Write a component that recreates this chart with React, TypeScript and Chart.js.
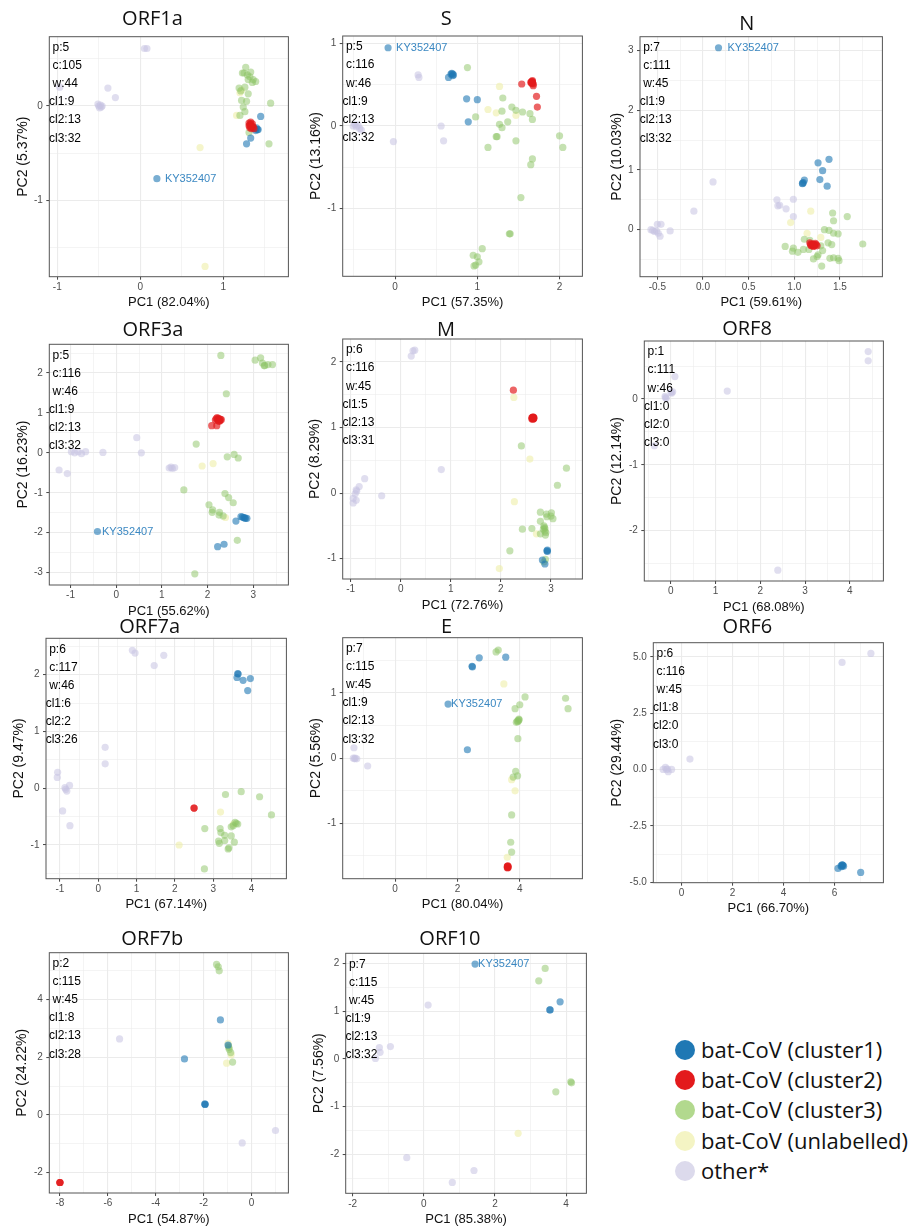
import React, { useEffect, useRef } from "react";
import { Chart, registerables } from "chart.js";
Chart.register(...registerables);

type Pt = [number, number];

const KY_LABEL = "KY352407";

/* ---------------- ORF1a ---------------- */
const ORF1a_cluster1: Pt[] = [[1.45,-0.11],[1.41,-0.25],[1.38,-0.24],[1.33,-0.34],[1.28,-0.40],[1.36,-0.23],[1.42,-0.25],[1.40,-0.23],[1.39,-0.26]];
const ORF1a_ky: Pt[] = [[0.20,-0.77]];
const ORF1a_cluster2: Pt[] = [[1.31,-0.18],[1.32,-0.20],[1.33,-0.19],[1.34,-0.21],[1.35,-0.22],[1.32,-0.23],[1.36,-0.22],[1.33,-0.17],[1.34,-0.24],[1.31,-0.21],[1.37,-0.24],[1.35,-0.19],[1.33,-0.22]];
const ORF1a_cluster3: Pt[] = [[1.27,0.41],[1.23,0.35],[1.33,0.36],[1.36,0.28],[1.30,0.28],[1.39,0.26],[1.26,0.20],[1.19,0.19],[1.21,0.16],[1.30,0.13],[1.28,0.05],[1.24,-0.01],[1.26,-0.06],[1.57,0.03],[1.20,-0.10],[1.55,-0.40],[1.31,-0.28],[1.32,0.31],[1.22,0.06],[1.29,0.33],[1.35,0.25],[1.25,0.35]];
const ORF1a_unlabelled: Pt[] = [[0.72,-0.44],[0.78,-1.70],[1.16,-0.10],[1.20,0.14],[1.22,0.17]];
const ORF1a_other: Pt[] = [[0.05,0.61],[0.08,0.61],[-0.97,0.20],[-0.39,0.19],[-0.30,0.09],[-0.50,0.00],[-0.48,0.01],[-0.47,-0.01],[-0.49,-0.02],[-0.51,0.02],[-0.46,0.00]];
const ORF1a_stats = ["p:5","c:105","w:44","cl1:9","cl2:13","cl3:32"];
const ORF1a_xTicks = [-1,0,1];
const ORF1a_xLabels = ["-1","0","1"];
const ORF1a_yTicks = [-1,0];
const ORF1a_yLabels = ["-1","0"];
const ORF1a_xRange = [-1.096,1.784];
const ORF1a_yRange = [-1.809,0.735];

/* ---------------- S ---------------- */
const S_cluster1: Pt[] = [[0.65,0.59],[0.68,0.63],[0.70,0.61],[0.69,0.64],[0.71,0.62],[0.70,0.63],[0.87,0.33],[1.00,0.32],[0.89,0.05]];
const S_ky: Pt[] = [[-0.085,0.95]];
const S_cluster2: Pt[] = [[1.54,0.51],[1.66,0.54],[1.67,0.52],[1.68,0.49],[1.66,0.53],[1.67,0.55],[1.65,0.53],[1.72,0.36],[1.73,0.23],[1.67,0.54],[1.68,0.51],[1.66,0.52],[1.67,0.53]];
const S_cluster3: Pt[] = [[0.88,0.71],[1.31,0.34],[1.42,0.23],[1.47,0.19],[1.55,0.17],[1.64,0.15],[1.67,0.08],[0.98,0.11],[1.30,0.18],[1.27,0.02],[1.30,-0.02],[1.37,0.05],[1.23,-0.13],[1.24,-0.13],[1.13,-0.26],[1.47,-0.18],[2.00,-0.12],[2.04,-0.26],[1.67,-0.40],[1.65,-0.47],[1.53,-0.87],[1.39,-1.31],[1.40,-1.31],[1.06,-1.49],[0.95,-1.57],[1.00,-1.59],[1.02,-1.65],[0.96,-1.70],[0.98,-1.69]];
const S_unlabelled: Pt[] = [[1.27,0.48],[1.13,0.20],[1.23,0.16],[1.47,0.13]];
const S_other: Pt[] = [[0.28,0.62],[0.29,0.59],[0.56,0.00],[0.59,-0.18],[-0.02,-0.19],[-0.51,0.00],[-0.47,-0.01],[-0.43,-0.03],[-0.49,0.02],[-0.41,-0.05],[-0.45,0.01]];
const S_stats = ["p:5","c:116","w:46","cl1:9","cl2:13","cl3:32"];
const S_xTicks = [0,1,2];
const S_xLabels = ["0","1","2"];
const S_yTicks = [-1,0,1];
const S_yLabels = ["-1","0","1"];
const S_xRange = [-0.637,2.278];
const S_yRange = [-1.826,1.093];

/* ---------------- N ---------------- */
const N_cluster1: Pt[] = [[1.26,1.12],[1.38,1.18],[1.31,0.99],[1.28,0.84],[1.36,0.73],[1.11,0.83],[1.09,0.77],[1.10,0.79],[1.09,0.78]];
const N_ky: Pt[] = [[0.17,3.05]];
const N_cluster2: Pt[] = [[1.17,-0.22],[1.20,-0.26],[1.22,-0.27],[1.24,-0.25],[1.21,-0.28],[1.18,-0.24],[1.19,-0.27],[1.23,-0.23],[1.20,-0.24],[1.22,-0.25],[1.18,-0.26],[1.21,-0.25],[1.25,-0.27]];
const N_cluster3: Pt[] = [[1.42,0.28],[1.43,0.15],[1.58,0.22],[1.33,0.00],[1.38,-0.01],[1.43,-0.06],[1.48,-0.07],[1.37,-0.22],[1.41,-0.25],[1.75,-0.24],[0.90,-0.28],[0.99,-0.31],[0.98,-0.36],[1.04,-0.38],[1.10,-0.33],[1.16,-0.33],[1.29,-0.27],[1.31,-0.35],[1.26,-0.42],[1.25,-0.45],[1.21,-0.49],[1.39,-0.48],[1.43,-0.47],[1.48,-0.48],[1.49,-0.52],[1.30,-0.61],[1.11,-0.16],[1.17,-0.18]];
const N_unlabelled: Pt[] = [[1.18,0.31],[0.96,0.12],[1.14,-0.06],[1.29,-0.13]];
const N_other: Pt[] = [[0.11,0.80],[-0.10,0.31],[0.81,0.50],[0.84,0.41],[0.82,0.40],[0.91,0.35],[0.99,0.51],[0.99,0.22],[-0.57,0.00],[-0.50,0.09],[-0.46,0.09],[-0.53,-0.03],[-0.49,-0.06],[-0.47,-0.11],[-0.36,-0.02],[-0.55,-0.01],[-0.51,-0.02]];
const N_stats = ["p:7","c:111","w:45","cl1:9","cl2:13","cl3:32"];
const N_xTicks = [-0.5,0,0.5,1,1.5];
const N_xLabels = ["-0.5","0.0","0.5","1.0","1.5"];
const N_yTicks = [0,1,2,3];
const N_yLabels = ["0","1","2","3"];
const N_xRange = [-0.690,1.965];
const N_yRange = [-0.788,3.235];

/* ---------------- ORF3a ---------------- */
const ORF3a_cluster1: Pt[] = [[2.62,-1.71],[2.73,-1.60],[2.79,-1.62],[2.83,-1.64],[2.86,-1.64],[2.76,-1.61],[2.81,-1.63],[2.22,-2.35],[2.36,-2.29]];
const ORF3a_ky: Pt[] = [[-0.41,-1.97]];
const ORF3a_cluster2: Pt[] = [[2.21,0.88],[2.25,0.86],[2.30,0.83],[2.17,0.82],[2.09,0.68],[2.20,0.68],[2.23,0.85],[2.27,0.81],[2.19,0.86],[2.24,0.80],[2.22,0.83],[2.28,0.84],[2.26,0.79]];
const ORF3a_cluster3: Pt[] = [[2.29,2.44],[2.41,1.48],[3.04,2.32],[3.16,2.38],[3.20,2.25],[3.24,2.18],[3.32,2.21],[3.42,2.21],[3.25,2.19],[1.75,0.22],[2.43,-0.10],[2.58,-0.04],[2.67,-0.13],[1.48,-0.93],[2.38,-1.02],[2.46,-1.12],[2.56,-1.25],[2.03,-1.30],[2.11,-1.43],[2.10,-1.49],[2.26,-1.49],[2.25,-1.56],[2.34,-1.58],[2.65,-2.19],[1.72,-3.03]];
const ORF3a_unlabelled: Pt[] = [[1.88,-0.33],[2.12,-0.27],[2.39,-1.62]];
const ORF3a_other: Pt[] = [[-1.25,-0.43],[-1.07,-0.52],[-0.98,0.03],[-0.91,0.00],[-0.83,0.03],[-0.76,-0.02],[-0.67,0.03],[-0.29,0.01],[0.45,0.38],[0.55,0.00],[1.16,-0.38],[1.23,-0.39],[1.28,-0.37],[1.20,-0.36]];
const ORF3a_stats = ["p:5","c:116","w:46","cl1:9","cl2:13","cl3:32"];
const ORF3a_xTicks = [-1,0,1,2,3];
const ORF3a_xLabels = ["-1","0","1","2","3"];
const ORF3a_yTicks = [-3,-2,-1,0,1,2];
const ORF3a_yLabels = ["-3","-2","-1","0","1","2"];
const ORF3a_xRange = [-1.464,3.768];
const ORF3a_yRange = [-3.31,2.718];

/* ---------------- M ---------------- */
const M_cluster1: Pt[] = [[2.93,-0.87],[2.93,-0.89],[2.83,-1.02],[2.88,-1.08],[2.92,-0.88]];
const M_ky: Pt[] = [];
const M_cluster2: Pt[] = [[2.25,1.57],[2.63,1.15],[2.65,1.14],[2.64,1.16],[2.62,1.13],[2.66,1.15],[2.64,1.13],[2.63,1.14],[2.65,1.16],[2.64,1.15],[2.66,1.14],[2.62,1.15],[2.65,1.13]];
const M_cluster3: Pt[] = [[2.41,0.72],[3.31,0.38],[3.13,0.12],[2.79,-0.29],[2.91,-0.32],[3.01,-0.30],[3.04,-0.39],[2.92,-0.36],[2.79,-0.43],[2.86,-0.50],[2.88,-0.54],[2.88,-0.58],[2.89,-0.64],[2.62,-0.54],[2.43,-0.55],[2.79,-0.62],[2.18,-0.88],[2.89,-1.01],[2.86,-1.05],[2.87,-0.52],[2.85,-0.55],[2.90,-0.60],[3.00,-0.35]];
const M_unlabelled: Pt[] = [[2.26,1.46],[2.58,0.52],[2.27,-0.13],[1.97,-1.15],[2.71,-0.62]];
const M_other: Pt[] = [[0.245,2.17],[0.28,2.18],[0.21,2.09],[0.81,0.36],[-0.72,0.22],[-0.83,0.10],[-0.89,0.05],[-0.91,-0.01],[-0.95,-0.08],[-0.89,-0.11],[-0.95,-0.15],[-0.38,-0.04],[-0.88,0.03]];
const M_stats = ["p:6","c:116","w:45","cl1:5","cl2:13","cl3:31"];
const M_xTicks = [-1,0,1,2,3];
const M_xLabels = ["-1","0","1","2","3"];
const M_yTicks = [-1,0,1,2];
const M_yLabels = ["-1","0","1","2"];
const M_xRange = [-1.159,3.629];
const M_yRange = [-1.309,2.35];

/* ---------------- ORF8 ---------------- */
const ORF8_cluster1: Pt[] = [];
const ORF8_ky: Pt[] = [];
const ORF8_cluster2: Pt[] = [];
const ORF8_cluster3: Pt[] = [];
const ORF8_unlabelled: Pt[] = [];
const ORF8_other: Pt[] = [[4.41,0.72],[4.41,0.58],[0.09,0.34],[0.04,0.11],[0.00,0.10],[-0.13,0.04],[-0.10,0.01],[1.26,0.12],[-0.37,-0.71],[2.39,-2.60],[-0.12,0.02],[0.02,0.09]];
const ORF8_stats = ["p:1","c:111","w:46","cl1:0","cl2:0","cl3:0"];
const ORF8_xTicks = [0,1,2,3,4];
const ORF8_xLabels = ["0","1","2","3","4"];
const ORF8_yTicks = [-2,-1,0];
const ORF8_yLabels = ["-2","-1","0"];
const ORF8_xRange = [-0.594,4.75];
const ORF8_yRange = [-2.765,0.881];

/* ---------------- ORF7a ---------------- */
const ORF7a_cluster1: Pt[] = [[3.64,2.02],[3.62,1.95],[3.78,1.90],[3.97,1.93],[3.90,1.72],[3.65,2.01]];
const ORF7a_ky: Pt[] = [];
const ORF7a_cluster2: Pt[] = [[2.50,-0.35],[2.50,-0.35]];
const ORF7a_cluster3: Pt[] = [[3.32,-0.11],[3.73,-0.06],[4.21,-0.15],[4.52,-0.47],[2.78,-0.71],[3.18,-0.71],[3.20,-0.78],[3.30,-0.83],[3.47,-0.84],[3.57,-0.60],[3.64,-0.63],[3.47,-0.68],[3.14,-0.93],[3.16,-0.97],[3.30,-0.92],[3.55,-0.95],[3.39,-1.07],[3.41,-1.05],[2.77,-1.42],[3.60,-0.62],[3.52,-0.66]];
const ORF7a_unlabelled: Pt[] = [[3.19,-0.42],[2.11,-1.00],[3.53,-0.63]];
const ORF7a_other: Pt[] = [[0.89,2.43],[0.96,2.38],[1.71,2.34],[1.46,2.16],[0.18,0.72],[0.18,0.43],[-1.06,0.28],[-1.07,0.19],[-0.87,0.01],[-0.82,-0.05],[-0.75,0.05],[-0.93,-0.40],[-0.74,-0.66],[-0.85,-0.02]];
const ORF7a_stats = ["p:6","c:117","w:46","cl1:6","cl2:2","cl3:26"];
const ORF7a_xTicks = [-1,0,1,2,3,4];
const ORF7a_xLabels = ["-1","0","1","2","3","4"];
const ORF7a_yTicks = [-1,0,1,2];
const ORF7a_yLabels = ["-1","0","1","2"];
const ORF7a_xRange = [-1.364,4.91];
const ORF7a_yRange = [-1.593,2.64];

/* ---------------- E ---------------- */
const E_cluster1: Pt[] = [[2.47,1.41],[2.48,1.40],[2.70,1.54],[3.55,1.55],[2.32,0.13]];
const E_ky: Pt[] = [[1.70,0.83]];
const E_cluster2: Pt[] = [[3.61,-1.66],[3.63,-1.67],[3.60,-1.68],[3.62,-1.65],[3.61,-1.67],[3.62,-1.68],[3.60,-1.66]];
const E_cluster3: Pt[] = [[3.31,1.66],[3.24,1.63],[4.17,0.94],[5.47,0.92],[5.55,0.76],[4.00,0.82],[3.85,0.76],[3.94,0.56],[3.98,0.59],[3.89,0.55],[3.96,0.58],[3.94,0.30],[3.87,-0.20],[3.93,-0.27],[3.79,-0.29],[3.74,-0.87],[3.71,-1.29],[3.74,-1.44],[3.97,0.60],[3.92,0.57]];
const E_unlabelled: Pt[] = [[3.49,1.14],[3.74,-0.33],[3.85,-0.50],[3.60,-1.52]];
const E_other: Pt[] = [[-1.32,0.16],[-1.34,0.00],[-1.23,-0.01],[-1.28,0.00],[-0.88,-0.12],[-1.30,-0.01]];
const E_stats = ["p:7","c:115","w:45","cl1:9","cl2:13","cl3:32"];
const E_xTicks = [0,2,4];
const E_xLabels = ["0","2","4"];
const E_yTicks = [-1,0,1];
const E_yLabels = ["-1","0","1"];
const E_xRange = [-1.681,6.01];
const E_yRange = [-1.849,1.849];

/* ---------------- ORF6 ---------------- */
const ORF6_cluster1: Pt[] = [[6.29,-4.23],[6.32,-4.25],[6.13,-4.38],[6.35,-4.28],[7.02,-4.56],[6.25,-4.27],[6.30,-4.22],[6.28,-4.30]];
const ORF6_ky: Pt[] = [];
const ORF6_cluster2: Pt[] = [];
const ORF6_cluster3: Pt[] = [];
const ORF6_unlabelled: Pt[] = [];
const ORF6_other: Pt[] = [[7.42,5.16],[6.29,4.76],[0.33,0.47],[-0.72,0.01],[-0.59,0.01],[-0.52,-0.09],[-0.39,0.01],[-0.63,0.10],[-0.55,0.03]];
const ORF6_stats = ["p:6","c:116","w:45","cl1:8","cl2:0","cl3:0"];
const ORF6_xTicks = [0,2,4,6];
const ORF6_xLabels = ["0","2","4","6"];
const ORF6_yTicks = [-5,-2.5,0,2.5,5];
const ORF6_yLabels = ["-5.0","-2.5","0.0","2.5","5.0"];
const ORF6_xRange = [-1.106,7.91];
const ORF6_yRange = [-5.015,5.636];

/* ---------------- ORF7b ---------------- */
const ORF7b_cluster1: Pt[] = [[-2.80,1.94],[-1.94,0.37],[-1.95,0.38],[-1.30,3.29],[-0.98,2.42],[-1.94,0.36]];
const ORF7b_ky: Pt[] = [];
const ORF7b_cluster2: Pt[] = [[-8.00,-2.34],[-8.00,-2.34],[-8.00,-2.34]];
const ORF7b_cluster3: Pt[] = [[-1.46,5.21],[-1.39,5.13],[-1.35,4.99],[-0.96,2.39],[-0.93,2.27],[-0.87,2.16],[-0.79,1.83],[-0.95,2.33]];
const ORF7b_unlabelled: Pt[] = [[-0.98,2.48],[-0.85,2.08],[-1.04,1.79]];
const ORF7b_other: Pt[] = [[-5.51,2.63],[-0.39,-0.97],[1.00,-0.54]];
const ORF7b_stats = ["p:2","c:115","w:45","cl1:8","cl2:13","cl3:28"];
const ORF7b_xTicks = [-8,-6,-4,-2,0];
const ORF7b_xLabels = ["-8","-6","-4","-2","0"];
const ORF7b_yTicks = [-2,0,2,4];
const ORF7b_yLabels = ["-2","0","2","4"];
const ORF7b_xRange = [-8.444,1.539];
const ORF7b_yRange = [-2.703,5.616];

/* ---------------- ORF10 ---------------- */
const ORF10_cluster1: Pt[] = [[3.83,1.20],[3.54,1.03],[3.55,1.03]];
const ORF10_ky: Pt[] = [[1.44,1.99]];
const ORF10_cluster2: Pt[] = [];
const ORF10_cluster3: Pt[] = [[3.41,1.90],[3.23,1.64],[4.13,-0.48],[4.15,-0.50],[3.71,-0.69]];
const ORF10_unlabelled: Pt[] = [[2.65,-1.56]];
const ORF10_other: Pt[] = [[0.12,1.13],[-0.94,0.26],[-1.25,0.24],[-1.23,0.14],[-1.36,0.01],[-0.48,-2.07],[1.41,-2.34],[0.80,-2.59]];
const ORF10_stats = ["p:7","c:115","w:45","cl1:9","cl2:13","cl3:32"];
const ORF10_xTicks = [-2,0,2,4];
const ORF10_xLabels = ["-2","0","2","4"];
const ORF10_yTicks = [-2,-1,0,1,2];
const ORF10_yLabels = ["-2","-1","0","1","2"];
const ORF10_xRange = [-2.196,4.569];
const ORF10_yRange = [-2.818,2.217];

/* ---------------- legend ---------------- */
const LEGEND_LABELS = ["bat-CoV (cluster1)", "bat-CoV (cluster2)", "bat-CoV (cluster3)", "bat-CoV (unlabelled)", "other*"];

/* ---------------- styles ---------------- */
const LEGEND_COLORS = ["#1F78B4", "#E31A1C", "#B2D98E", "#F4F4C4", "#DCDAEC"];
const FILL = {
  cluster2: "rgba(227,26,28,0.68)",
  cluster1: "rgba(31,120,180,0.6)",
  ky: "rgba(31,120,180,0.6)",
  cluster3: "rgba(140,195,100,0.5)",
  unlabelled: "rgba(236,236,160,0.55)",
  other: "rgba(198,194,226,0.55)",
};
const AXIS_FONT = '"Liberation Sans", Arial, sans-serif';
const TITLE_FONT = '"Open Sans", sans-serif';
const KY_COLOR = "#3B88C2";

const TITLE_SIZE = 20;
const TITLE_LH = 0.8; // -> 16px line
const TITLE_HALF = (TITLE_SIZE * TITLE_LH) / 2;
const Y_TITLE_SIZE = 14;
const Y_TITLE_HALF = Y_TITLE_SIZE / 2;
const X_TITLE_SIZE = 13;
const X_TITLE_HALF = (X_TITLE_SIZE * 1.2) / 2;
const X_TITLE_GAP = 26;

type Box = { plotL: number; plotR: number; plotT: number; plotB: number; yTitleX: number; titleX: number; titleY: number; kyGap: number };

const LAYOUT: Record<string, Box> = {
  ORF1a: { plotL: 49.3, plotR: 289.3, plotT: 36.7, plotB: 276.7, yTitleX: 23.3, titleX: 152.5, titleY: 19.2, kyGap: 8 },
  S: { plotL: 342.7, plotR: 583.7, plotT: 36, plotB: 276.3, yTitleX: 315.8, titleX: 447, titleY: 18.8, kyGap: 8 },
  N: { plotL: 640, plotR: 883.7, plotT: 36.7, plotB: 276.7, yTitleX: 617, titleX: 747.7, titleY: 24.5, kyGap: 9 },
  ORF3a: { plotL: 49.3, plotR: 290, plotT: 344.3, plotB: 585, yTitleX: 22.8, titleX: 153.7, titleY: 330, kyGap: 4.5 },
  M: { plotL: 342.7, plotR: 583.7, plotT: 339, plotB: 579, yTitleX: 315.3, titleX: 446.7, titleY: 330.3, kyGap: 4 },
  ORF8: { plotL: 644.3, plotR: 884.3, plotT: 341, plotB: 581, yTitleX: 616.7, titleX: 747.8, titleY: 329.7, kyGap: 4 },
  ORF7a: { plotL: 46, plotR: 287.3, plotT: 638.3, plotB: 878.7, yTitleX: 19.5, titleX: 149.7, titleY: 627.5, kyGap: 4 },
  E: { plotL: 342.7, plotR: 583.7, plotT: 637.7, plotB: 878.7, yTitleX: 316.2, titleX: 446.7, titleY: 627.5, kyGap: 3 },
  ORF6: { plotL: 653.3, plotR: 884.3, plotT: 642.7, plotB: 882.7, yTitleX: 617.5, titleX: 747.8, titleY: 627.5, kyGap: 4 },
  ORF7b: { plotL: 49.3, plotR: 289.3, plotT: 952.7, plotB: 1193, yTitleX: 22.5, titleX: 152.3, titleY: 939.2, kyGap: 4 },
  ORF10: { plotL: 345.7, plotR: 587.3, plotT: 953.3, plotB: 1193.3, yTitleX: 319.5, titleX: 450, titleY: 939.2, kyGap: 3 },
};

type Spec = {
  name: string; xTitle: string; yTitle: string;
  xRange: number[]; yRange: number[];
  xTicks: number[]; xLabels: string[]; yTicks: number[]; yLabels: string[];
  cluster1: Pt[]; cluster2: Pt[]; cluster3: Pt[]; unlabelled: Pt[]; other: Pt[]; ky: Pt[];
  stats: string[];
};

const PANELS: Spec[] = [
  { name: "ORF1a", xTitle: "PC1 (82.04%)", yTitle: "PC2 (5.37%)", xRange: ORF1a_xRange, yRange: ORF1a_yRange, xTicks: ORF1a_xTicks, xLabels: ORF1a_xLabels, yTicks: ORF1a_yTicks, yLabels: ORF1a_yLabels, cluster1: ORF1a_cluster1, cluster2: ORF1a_cluster2, cluster3: ORF1a_cluster3, unlabelled: ORF1a_unlabelled, other: ORF1a_other, ky: ORF1a_ky, stats: ORF1a_stats },
  { name: "S", xTitle: "PC1 (57.35%)", yTitle: "PC2 (13.16%)", xRange: S_xRange, yRange: S_yRange, xTicks: S_xTicks, xLabels: S_xLabels, yTicks: S_yTicks, yLabels: S_yLabels, cluster1: S_cluster1, cluster2: S_cluster2, cluster3: S_cluster3, unlabelled: S_unlabelled, other: S_other, ky: S_ky, stats: S_stats },
  { name: "N", xTitle: "PC1 (59.61%)", yTitle: "PC2 (10.03%)", xRange: N_xRange, yRange: N_yRange, xTicks: N_xTicks, xLabels: N_xLabels, yTicks: N_yTicks, yLabels: N_yLabels, cluster1: N_cluster1, cluster2: N_cluster2, cluster3: N_cluster3, unlabelled: N_unlabelled, other: N_other, ky: N_ky, stats: N_stats },
  { name: "ORF3a", xTitle: "PC1 (55.62%)", yTitle: "PC2 (16.23%)", xRange: ORF3a_xRange, yRange: ORF3a_yRange, xTicks: ORF3a_xTicks, xLabels: ORF3a_xLabels, yTicks: ORF3a_yTicks, yLabels: ORF3a_yLabels, cluster1: ORF3a_cluster1, cluster2: ORF3a_cluster2, cluster3: ORF3a_cluster3, unlabelled: ORF3a_unlabelled, other: ORF3a_other, ky: ORF3a_ky, stats: ORF3a_stats },
  { name: "M", xTitle: "PC1 (72.76%)", yTitle: "PC2 (8.29%)", xRange: M_xRange, yRange: M_yRange, xTicks: M_xTicks, xLabels: M_xLabels, yTicks: M_yTicks, yLabels: M_yLabels, cluster1: M_cluster1, cluster2: M_cluster2, cluster3: M_cluster3, unlabelled: M_unlabelled, other: M_other, ky: M_ky, stats: M_stats },
  { name: "ORF8", xTitle: "PC1 (68.08%)", yTitle: "PC2 (12.14%)", xRange: ORF8_xRange, yRange: ORF8_yRange, xTicks: ORF8_xTicks, xLabels: ORF8_xLabels, yTicks: ORF8_yTicks, yLabels: ORF8_yLabels, cluster1: ORF8_cluster1, cluster2: ORF8_cluster2, cluster3: ORF8_cluster3, unlabelled: ORF8_unlabelled, other: ORF8_other, ky: ORF8_ky, stats: ORF8_stats },
  { name: "ORF7a", xTitle: "PC1 (67.14%)", yTitle: "PC2 (9.47%)", xRange: ORF7a_xRange, yRange: ORF7a_yRange, xTicks: ORF7a_xTicks, xLabels: ORF7a_xLabels, yTicks: ORF7a_yTicks, yLabels: ORF7a_yLabels, cluster1: ORF7a_cluster1, cluster2: ORF7a_cluster2, cluster3: ORF7a_cluster3, unlabelled: ORF7a_unlabelled, other: ORF7a_other, ky: ORF7a_ky, stats: ORF7a_stats },
  { name: "E", xTitle: "PC1 (80.04%)", yTitle: "PC2 (5.56%)", xRange: E_xRange, yRange: E_yRange, xTicks: E_xTicks, xLabels: E_xLabels, yTicks: E_yTicks, yLabels: E_yLabels, cluster1: E_cluster1, cluster2: E_cluster2, cluster3: E_cluster3, unlabelled: E_unlabelled, other: E_other, ky: E_ky, stats: E_stats },
  { name: "ORF6", xTitle: "PC1 (66.70%)", yTitle: "PC2 (29.44%)", xRange: ORF6_xRange, yRange: ORF6_yRange, xTicks: ORF6_xTicks, xLabels: ORF6_xLabels, yTicks: ORF6_yTicks, yLabels: ORF6_yLabels, cluster1: ORF6_cluster1, cluster2: ORF6_cluster2, cluster3: ORF6_cluster3, unlabelled: ORF6_unlabelled, other: ORF6_other, ky: ORF6_ky, stats: ORF6_stats },
  { name: "ORF7b", xTitle: "PC1 (54.87%)", yTitle: "PC2 (24.22%)", xRange: ORF7b_xRange, yRange: ORF7b_yRange, xTicks: ORF7b_xTicks, xLabels: ORF7b_xLabels, yTicks: ORF7b_yTicks, yLabels: ORF7b_yLabels, cluster1: ORF7b_cluster1, cluster2: ORF7b_cluster2, cluster3: ORF7b_cluster3, unlabelled: ORF7b_unlabelled, other: ORF7b_other, ky: ORF7b_ky, stats: ORF7b_stats },
  { name: "ORF10", xTitle: "PC1 (85.38%)", yTitle: "PC2 (7.56%)", xRange: ORF10_xRange, yRange: ORF10_yRange, xTicks: ORF10_xTicks, xLabels: ORF10_xLabels, yTicks: ORF10_yTicks, yLabels: ORF10_yLabels, cluster1: ORF10_cluster1, cluster2: ORF10_cluster2, cluster3: ORF10_cluster3, unlabelled: ORF10_unlabelled, other: ORF10_other, ky: ORF10_ky, stats: ORF10_stats },
];

const near = (a: number, b: number) => Math.abs(a - b) < 1e-9;

function allTicks(major: number[], range: number[]): number[] {
  const out: number[] = [];
  const step = major.length > 1 ? major[1] - major[0] : 1;
  const first = major[0] - step / 2;
  const last = major[major.length - 1] + step / 2;
  for (let v = first; v <= last + 1e-9; v += step / 2) {
    const r = Math.round(v * 1e6) / 1e6;
    if (r >= range[0] && r <= range[1]) out.push(r);
  }
  return out;
}

function makeScale(major: number[], labels: string[], range: number[], isX: boolean, title: string, fit: (s: any) => void, titlePad: any) {
  const ticksAll = allTicks(major, range);
  const isMajor = (v: any) => typeof v === "number" && major.some((m) => near(m, v));
  return {
    type: "linear",
    position: isX ? "bottom" : "left",
    min: range[0],
    max: range[1],
    afterBuildTicks: (scale: any) => {
      scale.ticks = ticksAll.map((v) => ({ value: v }));
    },
    afterFit: fit,
    border: { display: false },
    grid: {
      color: "#EBEBEB",
      lineWidth: (ctx: any) => (isMajor(ctx.tick && ctx.tick.value) ? 1.1 : 0.55),
      drawTicks: true,
      tickLength: 3,
      tickColor: (ctx: any) => (isMajor(ctx.tick && ctx.tick.value) ? "#444" : "rgba(0,0,0,0)"),
      tickWidth: 1,
    },
    ticks: {
      autoSkip: false,
      maxRotation: 0,
      minRotation: 0,
      padding: isX ? 1.5 : 3.5,
      color: "#4D4D4D",
      font: { family: AXIS_FONT, size: 10, lineHeight: 1.2 },
      callback: (value: any) => {
        const i = major.findIndex((m) => near(m, value));
        return i >= 0 ? labels[i] : "";
      },
    },
    title: {
      display: true,
      text: title,
      color: "#111",
      font: isX ? { family: AXIS_FONT, size: X_TITLE_SIZE, lineHeight: 1.2 } : { family: AXIS_FONT, size: Y_TITLE_SIZE, lineHeight: 1.0 },
      padding: titlePad,
    },
  };
}

function Panel({ spec }: { spec: Spec }) {
  const ref = useRef<HTMLCanvasElement | null>(null);
  const box = LAYOUT[spec.name];

  const boxLeft = Math.min(2 * box.titleX - box.plotR, box.yTitleX - Y_TITLE_HALF);
  const canvasLeft = Math.floor(boxLeft);
  const canvasRight = Math.ceil(box.plotR + 2);
  const titleBottomPad = Math.max(0, box.plotT - box.titleY - TITLE_HALF);
  const canvasTop = Math.floor(box.plotT - 2 * TITLE_HALF - titleBottomPad);
  const titleTopPad = box.plotT - 2 * TITLE_HALF - titleBottomPad - canvasTop;
  const canvasBottom = Math.ceil(box.plotB + X_TITLE_GAP + X_TITLE_HALF);
  const xScaleH = canvasBottom - box.plotB;
  const xTitleBottomPad = xScaleH - X_TITLE_GAP - X_TITLE_HALF;
  const W = canvasRight - canvasLeft;
  const H = canvasBottom - canvasTop;
  const padL = boxLeft - canvasLeft;
  const padR = canvasRight - box.plotR;
  const yScaleW = box.plotL - boxLeft;
  const yTitleTopPad = box.yTitleX - Y_TITLE_HALF - boxLeft;

  useEffect(() => {
    const canvas = ref.current;
    if (!canvas) return;
    const groups: [keyof typeof FILL, Pt[]][] = [
      ["cluster2", spec.cluster2],
      ["cluster1", spec.cluster1],
      ["ky", spec.ky],
      ["cluster3", spec.cluster3],
      ["unlabelled", spec.unlabelled],
      ["other", spec.other],
    ];
    const datasets = groups.map(([key, pts]) => ({
      label: key,
      data: pts.map(([x, y]) => ({ x, y })),
      backgroundColor: FILL[key],
      borderWidth: 0,
      pointRadius: 3.6,
      pointHoverRadius: 3.6,
    }));
    const kyIndex = 2;

    const decor = {
      id: "decor_" + spec.name,
      afterDatasetsDraw(chart: any) {
        const { ctx, chartArea } = chart;
        ctx.save();
        ctx.strokeStyle = "#555";
        ctx.lineWidth = 1;
        ctx.strokeRect(chartArea.left, chartArea.top, chartArea.right - chartArea.left, chartArea.bottom - chartArea.top);
        ctx.fillStyle = "#000";
        ctx.font = `12px ${AXIS_FONT}`;
        ctx.textAlign = "left";
        ctx.textBaseline = "middle";
        spec.stats.forEach((s, i) => {
          ctx.fillText(s, chartArea.left + (i < 3 ? 3.2 : -0.3), chartArea.top + 11 + i * 18.1);
        });
        const meta = chart.getDatasetMeta(kyIndex);
        ctx.fillStyle = KY_COLOR;
        ctx.font = `11px ${AXIS_FONT}`;
        meta.data.forEach((el: any) => {
          ctx.fillText(KY_LABEL, el.x + box.kyGap, el.y);
        });
        ctx.restore();
      },
    };

    const chart = new Chart(canvas, {
      type: "scatter",
      data: { datasets },
      options: {
        responsive: false,
        animation: false,
        events: [],
        devicePixelRatio: 1,
        layout: { padding: { left: padL, right: padR, top: 0, bottom: 0 } },
        plugins: {
          legend: { display: false },
          tooltip: { enabled: false },
          title: {
            display: true,
            text: spec.name,
            color: "#111",
            font: { family: TITLE_FONT, size: TITLE_SIZE, lineHeight: TITLE_LH, weight: "normal" },
            padding: { top: titleTopPad, bottom: titleBottomPad },
          },
        },
        scales: {
          x: makeScale(spec.xTicks, spec.xLabels, spec.xRange, true, spec.xTitle, (s: any) => {
            s.height = xScaleH;
            s.paddingLeft = 0;
            s.paddingRight = 0;
          }, { top: 0, bottom: xTitleBottomPad }),
          y: makeScale(spec.yTicks, spec.yLabels, spec.yRange, false, spec.yTitle, (s: any) => {
            s.width = yScaleW;
            s.paddingTop = 0;
            s.paddingBottom = 0;
          }, { top: yTitleTopPad, bottom: 0 }),
        },
      } as any,
      plugins: [decor],
    });
    return () => chart.destroy();
  }, []);

  return (
    <canvas
      ref={ref}
      width={W}
      height={H}
      style={{ position: "absolute", left: canvasLeft, top: canvasTop, width: W, height: H }}
    />
  );
}

function Legend() {
  return (
    <>
      {LEGEND_LABELS.map((label, i) => {
        const cy = 1050 + i * 30.2;
        return (
          <React.Fragment key={label}>
            <div
              style={{
                position: "absolute",
                left: 675,
                top: cy - 10,
                width: 20,
                height: 20,
                borderRadius: "50%",
                background: LEGEND_COLORS[i],
              }}
            />
            <div
              style={{
                position: "absolute",
                left: 701,
                top: cy - 16,
                height: 30,
                lineHeight: "30px",
                fontFamily: TITLE_FONT,
                fontSize: 22,
                color: "#111",
                whiteSpace: "nowrap",
              }}
            >
              {label}
            </div>
          </React.Fragment>
        );
      })}
    </>
  );
}

export default function App() {
  return (
    <div
      style={{
        position: "absolute",
        left: 0,
        top: 0,
        width: 924,
        height: 1230,
        background: "#fff",
        overflow: "hidden",
      }}
    >
      {PANELS.map((p) => (
        <Panel key={p.name} spec={p} />
      ))}
      <Legend />
    </div>
  );
}
